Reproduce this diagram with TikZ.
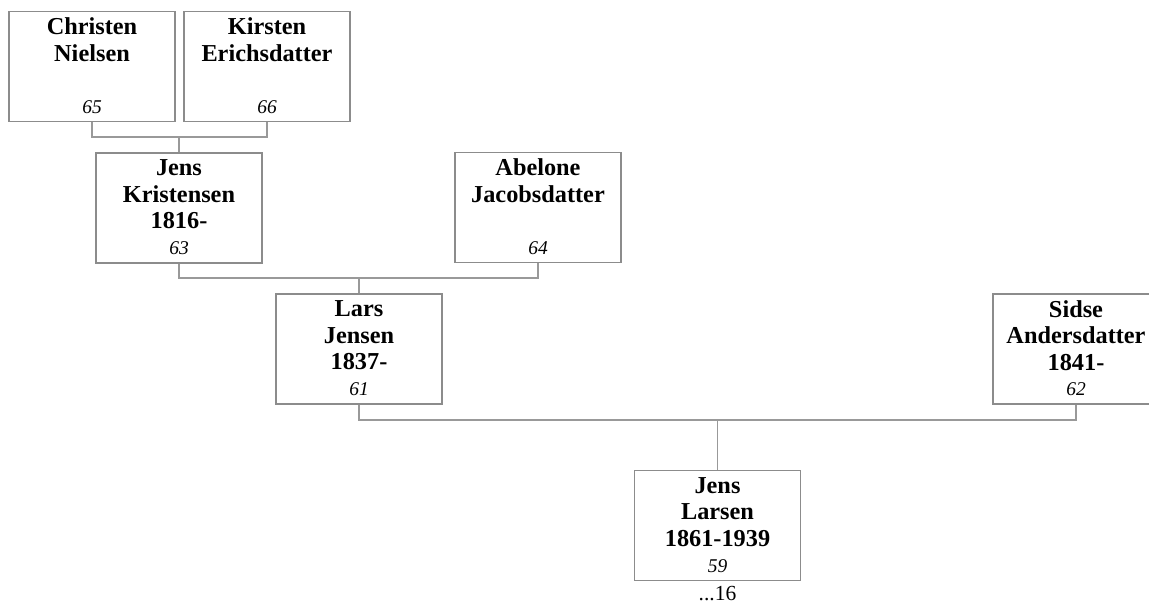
\documentclass[tikz,border=0pt]{standalone}
\usepackage{fontspec}
\setmainfont{Liberation Serif}
\usetikzlibrary{positioning}

\tikzset{
    person/.style={draw=black!45, line width=1.2pt, minimum width=166pt, minimum height=110pt, inner sep=0pt},
    pname/.style={anchor=north, align=center, inner sep=0pt, font=\fontsize{24.3}{26.5}\selectfont\bfseries},
    pnum/.style={anchor=base, inner sep=0pt, font=\fontsize{19.5}{21}\selectfont\itshape},
    link/.style={draw=black!40, line width=1.2pt}
}

\begin{document}
\begin{tikzpicture}[x=1pt, y=-1pt]
            \useasboundingbox (0,0) rectangle (1149,604);

            % Boxes for each person
            \node[person] (p65) at (92,66.5) {};
            \node[person] (p66) at (267,66.5) {};
            \node[person] (p63) at (179,208) {};
            \node[person] (p64) at (538,207.5) {};
            \node[person] (p61) at (359,349) {};
            \node[person] (p62) at (1076,349) {};
            \node[person] (p59) at (717.5,525.5) {};

            % Names at the top of the boxes
            \node[pname, below=7pt of p65.north] (n65) {Christen\\Nielsen};
            \node[pname, below=7pt of p66.north] (n66) {Kirsten\\Erichsdatter};
            \node[pname, below=7pt of p63.north] (n63) {Jens\\Kristensen\\1816-};
            \node[pname, below=7pt of p64.north] (n64) {Abelone\\Jacobsdatter};
            \node[pname, below=7pt of p61.north] (n61) {Lars\\Jensen\\1837-};
            \node[pname, below=7pt of p62.north] (n62) {Sidse\\Andersdatter\\1841-};
            \node[pname, below=7pt of p59.north] (n59) {Jens\\Larsen\\1861-1939};

            % Numbers at the bottom of the boxes
            \node[pnum] (k65) at ([yshift=9pt]p65.south) {65};
            \node[pnum] (k66) at ([yshift=9pt]p66.south) {66};
            \node[pnum] (k63) at ([yshift=9pt]p63.south) {63};
            \node[pnum] (k64) at ([yshift=9pt]p64.south) {64};
            \node[pnum] (k61) at ([yshift=9pt]p61.south) {61};
            \node[pnum] (k62) at ([yshift=9pt]p62.south) {62};
            \node[pnum] (k59) at ([yshift=9pt]p59.south) {59};
            \node[anchor=base, inner sep=0pt, font=\fontsize{21.5}{24}\selectfont] (more) at ([yshift=-19pt]p59.south) {...16};

            % Parent links
            \coordinate (u63) at (179,137);
            \coordinate (u61) at (359,278);
            \coordinate (u59) at (717.5,420);
            \draw[link] (p65.south) |- (u63) -| (p66.south);
            \draw[link] (u63) -- (p63.north);
            \draw[link] (p63.south) |- (u61) -| (p64.south);
            \draw[link] (u61) -- (p61.north);
            \draw[link] (p61.south) |- (u59) -| (p62.south);
            \draw[link] (u59) -- (p59.north);
        \end{tikzpicture}
\end{document}
